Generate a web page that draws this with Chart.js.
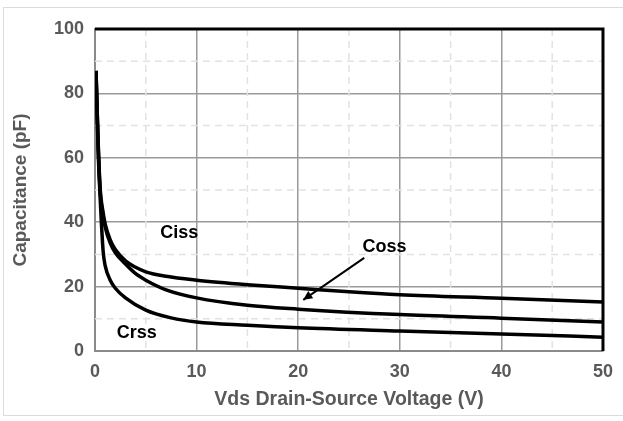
<!DOCTYPE html>
<html>
<head>
<meta charset="utf-8">
<script src="https://cdn.jsdelivr.net/npm/chart.js@4/dist/chart.umd.min.js"></script>
<style>
  html, body { margin: 0; padding: 0; background: #fff; }
  #wrap { position: relative; width: 623px; height: 421px; }
  #frame { position: absolute; left: 3px; top: 7px; width: 640px; height: 409px; border: 1px solid #dcdcdc; box-sizing: border-box; pointer-events: none; }
  canvas { position: absolute; left: 0; top: 0; }
</style>
</head>
<body>
<div id="wrap">
  <canvas id="c" width="623" height="421"></canvas>
  <div id="frame"></div>
</div>
<script>
// Data (Vds in V, capacitance in pF)
const cissV = [0.1, 0.3, 0.5, 0.8, 1, 1.5, 2, 3, 4, 5, 7, 10, 15, 20, 25, 30, 40, 50];
const cissC = [87, 66, 51, 43, 39.5, 34.5, 31.5, 28, 26, 24.6, 23.2, 22, 20.6, 19.5, 18.4, 17.5, 16.4, 15.2];
const cossV = [0.1, 0.3, 0.5, 0.8, 1, 1.5, 2, 3, 4, 5, 7, 10, 15, 20, 30, 40, 50];
const cossC = [87, 65, 50, 42, 38.5, 33.5, 30.5, 27, 24, 22, 19, 16.5, 14.2, 13, 11.3, 10.2, 9];
const crssV = [0.1, 0.3, 0.5, 0.8, 1, 1.5, 2, 3, 5, 7.5, 10, 15, 20, 30, 40, 50];
const crssC = [87, 63, 48, 31, 26.5, 22, 19.5, 16.5, 12.7, 10.3, 9, 8, 7.2, 6.2, 5.3, 4.3];
const xTicks = [0, 10, 20, 30, 40, 50];
const yTicks = [0, 20, 40, 60, 80, 100];
const xMinor = [5, 15, 25, 35, 45];
const yMinor = [10, 30, 50, 70, 90];
const curveLabels = ['Ciss', 'Coss', 'Crss'];

const toPts = (xs, ys) => xs.map((x, i) => ({ x: x, y: ys[i] }));

const FONT = '"Liberation Sans", Arial, sans-serif';
const GRAY = '#595959';

const annot = {
  id: 'annot',
  beforeDatasetsDraw(chart) {
    const { ctx, chartArea: a, scales: { x, y } } = chart;
    ctx.save();
    ctx.strokeStyle = '#e2e2e2';
    ctx.lineWidth = 1.5;
    ctx.setLineDash([7, 5]);
    xMinor.forEach(v => {
      const px = x.getPixelForValue(v);
      ctx.beginPath(); ctx.moveTo(px, a.top); ctx.lineTo(px, a.bottom); ctx.stroke();
    });
    yMinor.forEach(v => {
      const py = y.getPixelForValue(v);
      ctx.beginPath(); ctx.moveTo(a.left, py); ctx.lineTo(a.right, py); ctx.stroke();
    });
    ctx.restore();
  },
  afterDatasetsDraw(chart) {
    const { ctx, chartArea: a, scales: { x, y } } = chart;
    ctx.save();
    // top and right frame
    ctx.strokeStyle = '#000';
    ctx.lineWidth = 3;
    ctx.beginPath();
    ctx.moveTo(a.left, a.top); ctx.lineTo(a.right, a.top); ctx.lineTo(a.right, a.bottom);
    ctx.stroke();
    // labels
    ctx.fillStyle = '#000';
    ctx.font = 'bold 18px ' + FONT;
    ctx.textAlign = 'center';
    ctx.textBaseline = 'middle';
    const pos = [[8.3, 36.6], [28.5, 32.3], [4.1, 5.6]];
    curveLabels.forEach((t, i) => {
      ctx.fillText(t, x.getPixelForValue(pos[i][0]), y.getPixelForValue(pos[i][1]));
    });
    // arrow
    const x1 = x.getPixelForValue(26.5), y1 = y.getPixelForValue(28.9);
    const x2 = x.getPixelForValue(20.5), y2 = y.getPixelForValue(15.9);
    ctx.strokeStyle = '#000';
    ctx.lineWidth = 2;
    ctx.beginPath(); ctx.moveTo(x1, y1); ctx.lineTo(x2, y2); ctx.stroke();
    const ang = Math.atan2(y2 - y1, x2 - x1);
    const L = 10, W = 0.45;
    ctx.beginPath();
    ctx.moveTo(x2, y2);
    ctx.lineTo(x2 - L * Math.cos(ang - W), y2 - L * Math.sin(ang - W));
    ctx.lineTo(x2 - L * Math.cos(ang + W), y2 - L * Math.sin(ang + W));
    ctx.closePath();
    ctx.fill();
    ctx.restore();
  }
};

const ds = (label, xs, ys) => ({
  label: label,
  data: toPts(xs, ys),
  borderColor: '#000',
  borderWidth: 3.5,
  pointRadius: 0,
  fill: false,
  cubicInterpolationMode: 'monotone'
});

new Chart(document.getElementById('c'), {
  type: 'line',
  data: {
    datasets: [
      ds('Ciss', cissV, cissC),
      ds('Coss', cossV, cossC),
      ds('Crss', crssV, crssC)
    ]
  },
  options: {
    responsive: false,
    animation: false,
    layout: { padding: { left: 7, right: 18, top: 29, bottom: 10 } },
    plugins: { legend: { display: false }, tooltip: { enabled: false } },
    scales: {
      x: {
        type: 'linear',
        min: 0, max: 50,
        afterFit: s => { s.height = 421 - 351 - 10; },
        afterBuildTicks: s => { s.ticks = xTicks.map(v => ({ value: v })); },
        ticks: { color: GRAY, font: { family: FONT, size: 18, weight: 'bold' }, padding: 10 },
        grid: {
          drawTicks: false,
          color: '#9a9a9a',
          lineWidth: 1.5
        },
        border: { display: true, color: '#8a8a8a', width: 2 },
        title: {
          display: true,
          text: 'Vds Drain-Source Voltage (V)',
          color: GRAY,
          font: { family: FONT, size: 19.5, weight: 'bold' },
          padding: { top: 0, bottom: 0 }
        }
      },
      y: {
        type: 'linear',
        min: 0, max: 100,
        afterFit: s => { s.width = 95 - 7; },
        afterBuildTicks: s => { s.ticks = yTicks.map(v => ({ value: v })); },
        ticks: { color: GRAY, font: { family: FONT, size: 18, weight: 'bold' }, padding: 11 },
        grid: {
          drawTicks: false,
          color: '#9a9a9a',
          lineWidth: 1.5
        },
        border: { display: true, color: '#8a8a8a', width: 2 },
        title: {
          display: true,
          text: 'Capacitance (pF)',
          color: GRAY,
          font: { family: FONT, size: 19, weight: 'bold' },
          padding: { top: 2, bottom: 0 }
        }
      }
    }
  },
  plugins: [annot]
});
</script>
</body>
</html>
